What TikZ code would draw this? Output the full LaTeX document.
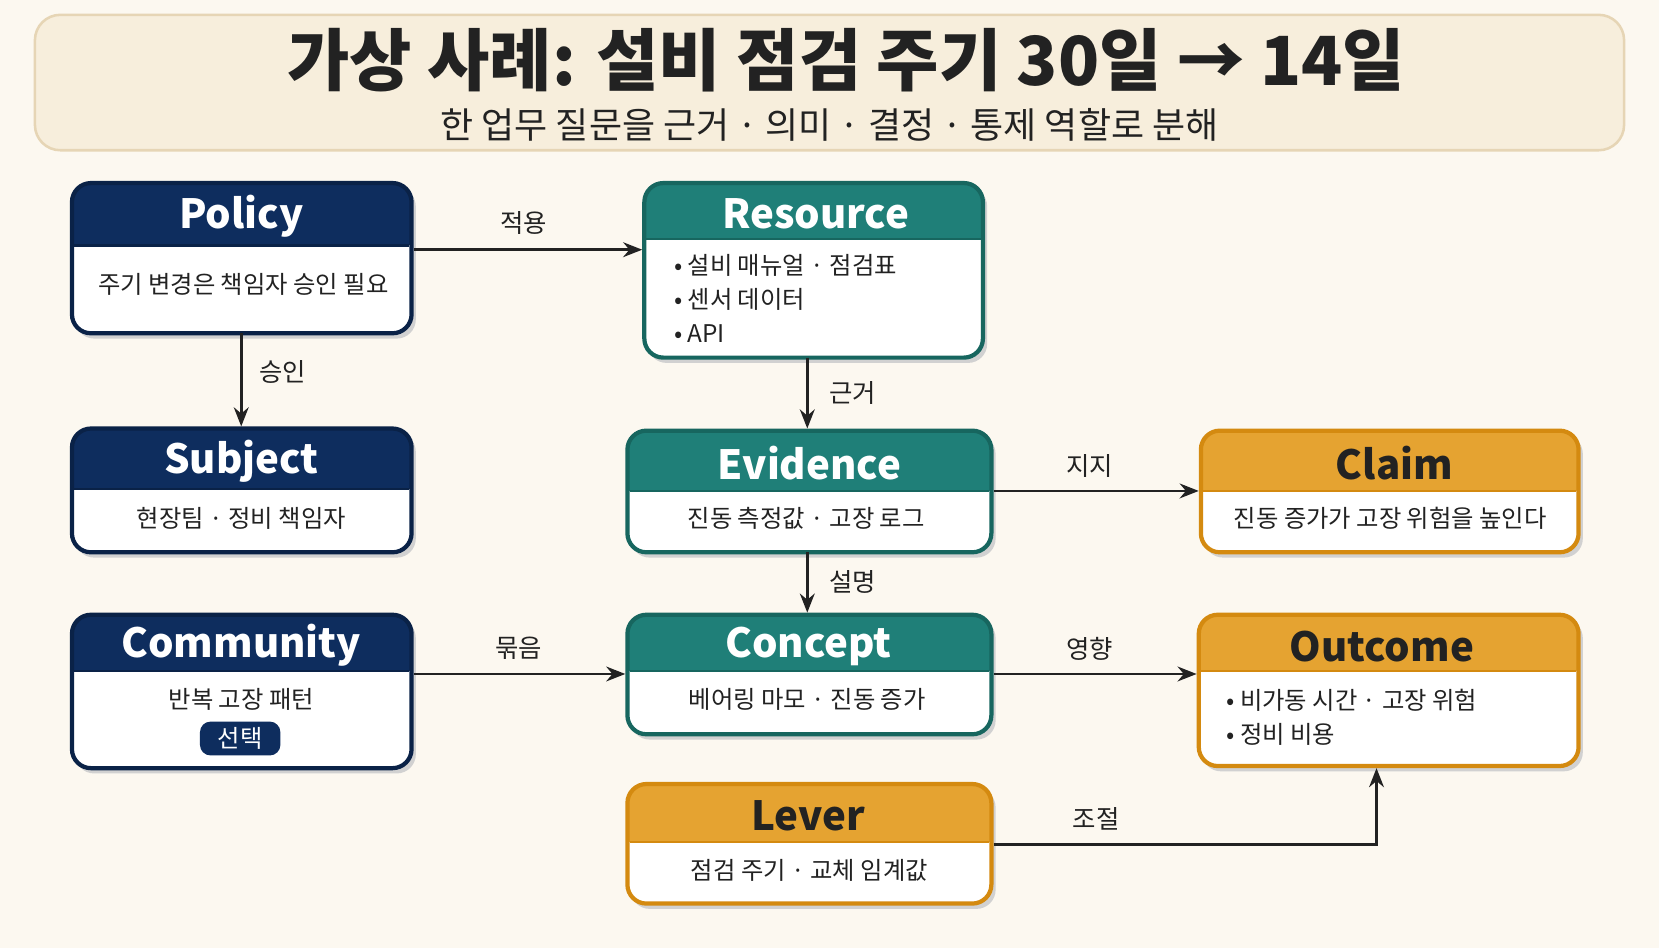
\documentclass[tikz,border=0pt]{standalone}
\usepackage{fontspec}
\setmainfont{Noto Sans CJK KR}
\usetikzlibrary{arrows.meta,shadows}
\definecolor{bg}{HTML}{FCF8F0}
\definecolor{navy}{HTML}{0E2D5E}
\definecolor{navyb}{HTML}{0A2247}
\definecolor{teal}{HTML}{1F7F78}
\definecolor{tealb}{HTML}{17665F}
\definecolor{gold}{HTML}{E5A331}
\definecolor{goldb}{HTML}{D48A10}
\definecolor{tbox}{HTML}{F7EEDC}
\definecolor{tboxb}{HTML}{E6D5B5}
\definecolor{ink}{HTML}{222222}
\tikzset{
  conn/.style={draw=ink,line width=1.3pt,-{Stealth[length=9pt,width=7pt]}},
  lbl/.style={font=\fontsize{12}{14}\selectfont,text=ink},
  body/.style={font=\fontsize{11.5}{16}\selectfont,text=ink},
  hdr/.style={font=\bfseries\fontsize{19}{22}\selectfont}
}
% #1 name, #2 x1, #3 y1, #4 x2, #5 y2, #6 header bottom, #7 fill, #8 border, #9 title color
\newcommand\rolebox[9]{%
  \fill[black!18,rounded corners=9pt] (#2+3,#3+4) rectangle (#4+4,#5+5);
  \begin{scope}
    \clip[rounded corners=9pt] (#2,#3) rectangle (#4,#5);
    \fill[white] (#2,#3) rectangle (#4,#5);
    \fill[#7] (#2,#3) rectangle (#4,#6);
  \end{scope}
  \fill[#7] (#2+4,#6-1) rectangle (#2+6,#6+1);
  \node[draw=#8,line width=2pt,rounded corners=9pt,minimum width=(#4-#2)*0.5pt,minimum height=(#5-#3)*0.5pt,inner sep=0pt] (#1) at ({(#2+#4)/2},{(#3+#5)/2}) {};
  \draw[#8,line width=1pt] (#2+2,#6) -- (#4-2,#6);
}
\begin{document}
\begin{tikzpicture}[x=0.5pt,y=-0.5pt]
\fill[bg] (0,0) rectangle (1568,896);
\useasboundingbox (0,0) rectangle (1568,896);
% title
\node[draw=tboxb,fill=tbox,line width=1.2pt,rounded corners=12pt,minimum width=751pt,minimum height=64pt,inner sep=0pt] (tbox) at (784,78) {};
\node[font=\bfseries\fontsize{32}{36}\selectfont,text=ink] (title) at (800,57) {가상 사례: 설비 점검 주기 30일 → 14일};
\node[font=\fontsize{17}{20}\selectfont,text=ink] (sub) at (784,118) {한 업무 질문을 근거 · 의미 · 결정 · 통제 역할로 분해};
% boxes
\rolebox{pol}{68}{173}{389}{315}{232}{navy}{navyb}{}
\node[hdr,white] at (228,204) {Policy};
\node[body] at (230,269) {주기 변경은 책임자 승인 필요};
\rolebox{res}{609}{173}{929}{338}{226}{teal}{tealb}{}
\node[hdr,white] at (771,202) {Resource};
\node[body,align=left,anchor=west] at (630,282) {• 설비 매뉴얼 · 점검표\\• 센서 데이터\\• API};
\rolebox{sub}{68}{405}{389}{522}{462}{navy}{navyb}{}
\node[hdr,white] at (228,436) {Subject};
\node[body] at (228,490) {현장팀 · 정비 책임자};
\rolebox{evi}{593}{407}{937}{522}{464}{teal}{tealb}{}
\node[hdr,white] at (765,438) {Evidence};
\node[body] at (762,490) {진동 측정값 · 고장 로그};
\rolebox{cla}{1135}{407}{1492}{522}{464}{gold}{goldb}{}
\node[hdr,text=ink] at (1318,438) {Claim};
\node[body] at (1314,490) {진동 증가가 고장 위험을 높인다};
\rolebox{com}{68}{581}{389}{726}{634}{navy}{navyb}{}
\node[hdr,white] at (228,610) {Community};
\node[body] at (228,661) {반복 고장 패턴};
\node[fill=navy,text=white,rounded corners=5pt,font=\fontsize{11.5}{13}\selectfont,minimum width=38pt,minimum height=16pt,inner sep=1pt] (sel) at (227,698) {선택};
\rolebox{con}{593}{581}{937}{694}{634}{teal}{tealb}{}
\node[hdr,white] at (764,611) {Concept};
\node[body] at (763,661) {베어링 마모 · 진동 증가};
\rolebox{out}{1133}{581}{1492}{724}{634}{gold}{goldb}{}
\node[hdr,text=ink] at (1306,611) {Outcome};
\node[body,align=left,anchor=west] at (1152,678) {• 비가동 시간 · 고장 위험\\• 정비 비용};
\rolebox{lev}{593}{741}{937}{854}{796}{gold}{goldb}{}
\node[hdr,text=ink] at (764,771) {Lever};
\node[body] at (765,823) {점검 주기 · 교체 임계값};
% connectors
\draw[conn] (pol.east|-0,236) -- (res.west|-0,236);
\node[lbl] at (495,211) {적용};
\draw[conn] (228,315) -- (sub.north-|228,0);
\node[lbl] at (267,352) {승인};
\draw[conn] (763,338) -- (evi.north-|763,0);
\node[lbl] at (806,371) {근거};
\draw[conn] (evi.east|-0,464) -- (cla.west|-0,464);
\node[lbl] at (1030,440) {지지};
\draw[conn] (763,522) -- (con.north-|763,0);
\node[lbl] at (806,550) {설명};
\draw[conn] (com.east|-0,637) -- (con.west|-0,637);
\node[lbl] at (490,613) {묶음};
\draw[conn] (con.east|-0,637) -- (out.west|-0,637);
\node[lbl] at (1030,613) {영향};
\coordinate (bend) at (1301,798);
\draw[conn] (lev.east|-bend) -- (bend) -- (out.south-|bend);
\node[lbl] at (1036,774) {조절};
\end{tikzpicture}
\end{document}
